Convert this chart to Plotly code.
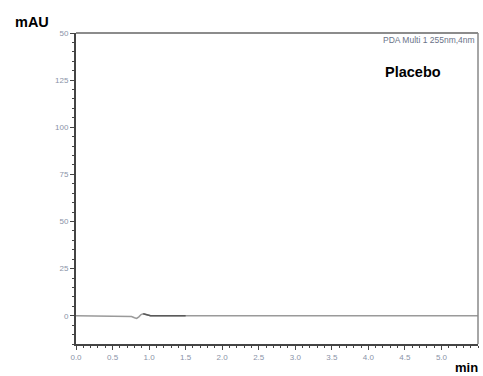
import plotly.graph_objects as go

# Chromatogram trace (min, mAU)
time_min = [0.0, 0.70, 0.76, 0.80, 0.83, 0.86, 0.89, 0.92, 0.95, 0.98, 1.02, 1.10, 1.50, 1.80, 2.5, 3.5, 4.5, 5.5]
signal_mau = [0.0, 0.0, -0.4, -1.1, -1.4, -0.6, 0.6, 1.0, 0.8, 0.3, 0.0, 0.0, 0.0, 0.0, 0.0, 0.0, 0.0, 0.0]

y_tick_vals = [0, 25, 50, 75, 100, 125, 150]
y_tick_text = ["0", "25", "50", "75", "100", "125", "50"]
x_tick_vals = [0.0, 0.5, 1.0, 1.5, 2.0, 2.5, 3.0, 3.5, 4.0, 4.5, 5.0]
x_tick_text = ["0.0", "0.5", "1.0", "1.5", "2.0", "2.5", "3.0", "3.5", "4.0", "4.5", "5.0"]

fig = go.Figure()
fig.add_trace(go.Scatter(x=time_min, y=signal_mau, mode="lines",
                         line=dict(color="#9a9a9a", width=1.5), showlegend=False))
# darker segment of the baseline
seg_x = [t for t in time_min if 0.9 <= t <= 1.5]
seg_y = [signal_mau[time_min.index(t)] for t in seg_x]
fig.add_trace(go.Scatter(x=seg_x, y=seg_y, mode="lines",
                         line=dict(color="#5a5a5a", width=1.5), showlegend=False))

axis_font = dict(family="Arial, Liberation Sans", size=8, color="#8a93a8")
fig.update_layout(
    width=483, height=376,
    margin=dict(l=76, r=5, t=33, b=32),
    paper_bgcolor="white", plot_bgcolor="white",
    xaxis=dict(range=[0, 5.5], tickvals=x_tick_vals, ticktext=x_tick_text,
               showgrid=False, zeroline=False, showline=True, linecolor="#444", linewidth=2,
               mirror=False, ticks="outside", ticklen=4, tickcolor="#444", tickfont=axis_font,
               minor=dict(dtick=0.1, ticks="outside", ticklen=2, tickcolor="#444")),
    yaxis=dict(range=[-15, 150], tickvals=y_tick_vals, ticktext=y_tick_text,
               showgrid=False, zeroline=False, showline=True, linecolor="#444", linewidth=2,
               ticks="outside", ticklen=4, tickcolor="#444", tickfont=axis_font,
               minor=dict(dtick=5, ticks="outside", ticklen=2, tickcolor="#444")),
)
# top and right frame lines
fig.add_shape(type="line", xref="paper", yref="paper", x0=0, x1=1, y0=1, y1=1,
              line=dict(color="#666", width=1.5))
fig.add_shape(type="line", xref="paper", yref="paper", x0=1, x1=1, y0=0, y1=1,
              line=dict(color="#888", width=1.5))

fig.add_annotation(text="<b>mAU</b>", xref="paper", yref="paper", x=-0.157, y=1.035,
                   xanchor="left", yanchor="middle", showarrow=False,
                   font=dict(family="Arial, Liberation Sans", size=14.5, color="black"))
fig.add_annotation(text="<b>min</b>", xref="paper", yref="paper", x=1.005, y=-0.077,
                   xanchor="right", yanchor="middle", showarrow=False,
                   font=dict(family="Arial, Liberation Sans", size=13, color="black"))
fig.add_annotation(text="<b>Placebo</b>", xref="paper", yref="paper", x=0.764, y=0.876,
                   xanchor="left", yanchor="middle", showarrow=False,
                   font=dict(family="Arial, Liberation Sans", size=14.5, color="black"))
fig.add_annotation(text="PDA Multi 1 255nm,4nm", xref="paper", yref="paper", x=0.998, y=0.977,
                   xanchor="right", yanchor="middle", showarrow=False,
                   font=dict(family="Arial, Liberation Sans", size=8.5, color="#6a7388"))

fig.write_html("out.html", config={"displayModeBar": False},
               post_script="document.body.style.margin='0';document.body.style.overflow='hidden';")
